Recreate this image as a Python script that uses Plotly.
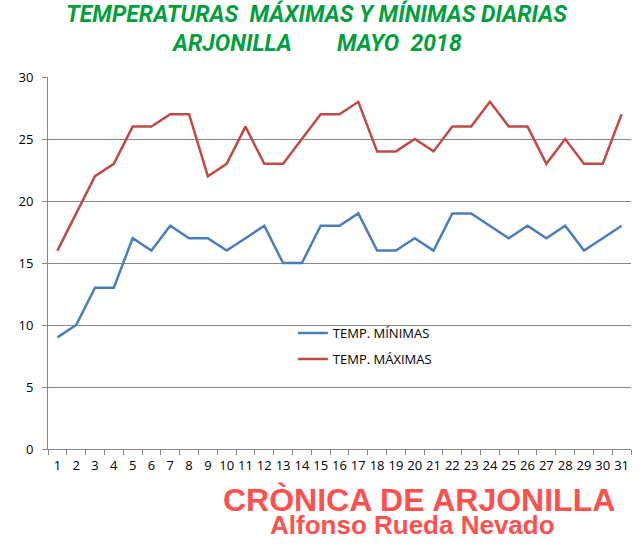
import plotly.graph_objects as go

dias = [str(d) for d in range(1, 32)]
temp_max = [16, 19, 22, 23, 26, 26, 27, 27, 22, 23, 26, 23, 23, 25, 27, 27,
            28, 24, 24, 25, 24, 26, 26, 28, 26, 26, 23, 25, 23, 23, 27]
temp_min = [9, 10, 13, 13, 17, 16, 18, 17, 17, 16, 17, 18, 15, 15, 18, 18,
            19, 16, 16, 17, 16, 19, 19, 18, 17, 18, 17, 18, 16, 17, 18]
y_ticks = [0, 5, 10, 15, 20, 25, 30]

NB = "\u00a0"
VERDE = "#00A040"
ROJO = "#FF5050"

fig = go.Figure()
fig.add_trace(go.Scatter(x=dias, y=temp_min, mode="lines", name="TEMP. MÍNIMAS",
                         line=dict(color="#4A7EBB", width=2.5), legendgroup="a"))
fig.add_trace(go.Scatter(x=dias, y=temp_max, mode="lines", name="TEMP. MÁXIMAS",
                         line=dict(color="#BE4B48", width=2.5), legendgroup="b"))

fig.update_layout(
    width=643, height=548,
    margin=dict(l=48, r=12, t=77, b=99),
    paper_bgcolor="white", plot_bgcolor="white",
    font=dict(family="Open Sans", size=13, color="black"),
    showlegend=True,
    legend=dict(x=0.42, y=0.352, xanchor="left", yanchor="top",
                bgcolor="rgba(0,0,0,0)", font=dict(size=13),
                itemwidth=30, tracegroupgap=6),
    xaxis=dict(type="category", tickson="boundaries", ticks="outside",
               ticklen=5, tickcolor="#868686", showline=True,
               linecolor="#868686", showgrid=False, range=[-0.5, 30.5],
               tickangle=0, automargin=False, ticklabelstandoff=4,
               tickfont=dict(size=13)),
    yaxis=dict(range=[0, 30], tickvals=y_ticks, ticks="outside", ticklen=5,
               tickcolor="#868686", showline=True, linecolor="#868686",
               gridcolor="#868686", gridwidth=1, zeroline=False,
               automargin=False, ticklabelstandoff=6,
               tickfont=dict(size=13)),
)

# titulo en dos lineas
fig.add_annotation(text="TEMPERATURAS" + NB + " MÁXIMAS Y MÍNIMAS DIARIAS",
                   xref="paper", yref="paper", x=0.461, y=1.169,
                   xanchor="center", yanchor="middle", showarrow=False,
                   font=dict(family="Roboto", size=23, color=VERDE,
                             weight="bold", style="italic"))
fig.add_annotation(text="ARJONILLA" + NB * 7 + " MAYO" + NB + " 2018",
                   xref="paper", yref="paper", x=0.461, y=1.089,
                   xanchor="center", yanchor="middle", showarrow=False,
                   font=dict(family="Roboto", size=23, color=VERDE,
                             weight="bold", style="italic"))

# firma
fig.add_annotation(text="CRÒNICA DE ARJONILLA", xref="paper", yref="paper",
                   x=0.636, y=-0.137, xanchor="center", yanchor="middle",
                   showarrow=False,
                   font=dict(family="Liberation Sans", size=32, color=ROJO,
                             weight="bold"))
fig.add_annotation(text="Alfonso Rueda Nevado", xref="paper", yref="paper",
                   x=0.626, y=-0.205, xanchor="center", yanchor="middle",
                   showarrow=False,
                   font=dict(family="Liberation Sans", size=26, color=ROJO,
                             weight="bold"))

# quitar el margen del body para que la figura empiece en 0,0
fig.write_html("out.html", config={"displayModeBar": False},
               post_script="document.body.style.margin='0';")
